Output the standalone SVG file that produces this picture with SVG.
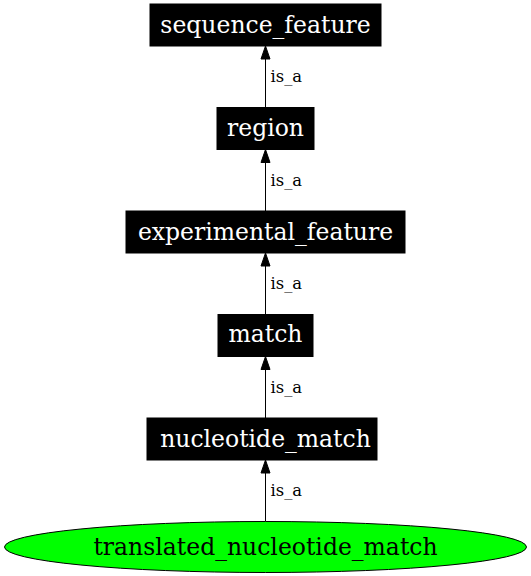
<svg xmlns="http://www.w3.org/2000/svg" width="531" height="576" viewBox="0 0 531 576">
<style>
.box{fill:#000;stroke:#000;}
.nt{font-family:"DejaVu Serif",serif;font-size:23.5px;fill:#fff;text-anchor:middle;}
.et{font-family:"DejaVu Serif",serif;font-size:16.4px;fill:#000;}
.edge{stroke:#000;stroke-width:1;fill:none;}
.ah{fill:#000;stroke:#000;}
</style>
<rect width="531" height="576" fill="#fff"/>
<g id="connectors">
<line class="edge" x1="265.5" y1="521.5" x2="265.5" y2="473"/>
<polygon class="ah" points="261,473 265.5,460 270,473"/>
<text class="et" x="270.5" y="496">is_a</text>
<line class="edge" x1="265.5" y1="418" x2="265.5" y2="369.5"/>
<polygon class="ah" points="261,369.5 265.5,356.5 270,369.5"/>
<text class="et" x="270.5" y="392.5">is_a</text>
<line class="edge" x1="265.5" y1="314.5" x2="265.5" y2="266"/>
<polygon class="ah" points="261,266 265.5,253 270,266"/>
<text class="et" x="270.5" y="289">is_a</text>
<line class="edge" x1="265.5" y1="211" x2="265.5" y2="162.5"/>
<polygon class="ah" points="261,162.5 265.5,149.5 270,162.5"/>
<text class="et" x="270.5" y="185.5">is_a</text>
<line class="edge" x1="265.5" y1="107.5" x2="265.5" y2="59"/>
<polygon class="ah" points="261,59 265.5,46 270,59"/>
<text class="et" x="270.5" y="82">is_a</text>
</g>
<g id="sequence_feature">
<rect class="box" x="150" y="4" width="231" height="42"/>
<text class="nt" x="265.5" y="32.5">sequence_feature</text>
</g>
<g id="region">
<rect class="box" x="217" y="107.5" width="97" height="42"/>
<text class="nt" x="265.5" y="136">region</text>
</g>
<g id="experimental_feature">
<rect class="box" x="126" y="211" width="279" height="42"/>
<text class="nt" x="265.5" y="239.5">experimental_feature</text>
</g>
<g id="match">
<rect class="box" x="218" y="314.5" width="95" height="42"/>
<text class="nt" x="265.5" y="342">match</text>
</g>
<g id="nucleotide_match">
<rect class="box" x="147" y="418" width="230" height="42"/>
<text class="nt" x="265.5" y="446.5">nucleotide_match</text>
</g>
<g id="translated_nucleotide_match">
<ellipse cx="265.5" cy="547" rx="261" ry="25.5" fill="#00ff00" stroke="#000"/>
<text class="nt" x="265.5" y="554.5" style="fill:#000">translated_nucleotide_match</text>
</g>
</svg>
